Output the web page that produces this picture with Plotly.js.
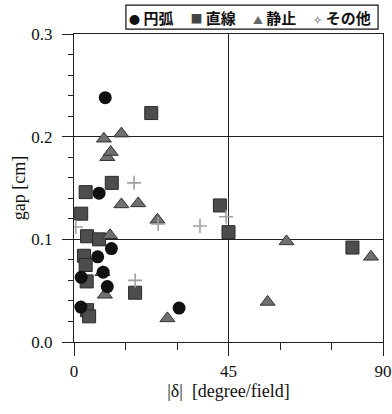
<!DOCTYPE html>
<html>
<head>
<meta charset="utf-8">
<script src="https://cdn.plot.ly/plotly-3.0.1.min.js"></script>
<style>html,body{margin:0;padding:0;background:#fff;}#chart{width:392px;height:414px;}</style>
</head>
<body>
<div id="chart"></div>
<script>
// Series names
const seriesNames = ["円弧", "直線", "静止", "その他"];

// 円弧 (circles)
const arcX = [9.1, 7.3, 10.9, 6.9, 2.1, 8.5, 9.7, 2.0, 30.6];
const arcY = [0.238, 0.145, 0.091, 0.083, 0.063, 0.068, 0.054, 0.034, 0.033];

// 直線 (squares)
const lineX = [22.5, 3.4, 11.0, 2.1, 3.8, 7.3, 2.9, 3.4, 3.7, 3.8, 4.4, 17.8, 42.5, 45.0, 81.1];
const lineY = [0.223, 0.146, 0.155, 0.125, 0.103, 0.100, 0.084, 0.075, 0.059, 0.031, 0.025, 0.048, 0.133, 0.107, 0.092];

// 静止 (triangles)
const stillX = [8.7, 13.8, 9.7, 10.7, 13.8, 18.7, 24.3, 10.5, 9.0, 27.2, 8.3, 61.9, 86.5, 56.4];
const stillY = [0.198, 0.203, 0.180, 0.185, 0.134, 0.135, 0.119, 0.104, 0.046, 0.023, 0.068, 0.098, 0.083, 0.039];

// その他 (crosses)
const otherX = [17.5, 0.5, 24.5, 36.7, 44.3, 17.8];
const otherY = [0.155, 0.112, 0.115, 0.113, 0.122, 0.060];

// Axis ticks
const xTicks = [0, 45, 90];
const yTicks = [0.0, 0.1, 0.2, 0.3];

const serif = "Liberation Serif, Times New Roman, serif";
const cjk = "Noto Sans CJK JP, sans-serif";

const traces = [
  {x: lineX, y: lineY, name: seriesNames[1], type: "scatter", mode: "markers", showlegend: false,
   marker: {symbol: "square", size: 13, color: "#4d4d4d", line: {color: "#2a2a2a", width: 1}}},
  {x: stillX, y: stillY, name: seriesNames[2], type: "scatter", mode: "markers", showlegend: false,
   marker: {symbol: "triangle-up", size: 13, color: "#707070", line: {color: "#333", width: 1}}},
  {x: otherX, y: otherY, name: seriesNames[3], type: "scatter", mode: "markers", showlegend: false,
   marker: {symbol: "cross-thin-open", size: 10, color: "#a0a0a0", line: {color: "#a0a0a0", width: 1.6}}},
  {x: arcX, y: arcY, name: seriesNames[0], type: "scatter", mode: "markers", showlegend: false,
   marker: {symbol: "circle", size: 13, color: "#111", line: {color: "#000", width: 0}}}
];

const gap = '&nbsp;&nbsp;&nbsp;&nbsp;&nbsp;';
const legendText =
  '<span style="font-size:11px">●</span>&nbsp;' + seriesNames[0] + gap +
  '<span style="font-size:12px;color:#444">■</span>&nbsp;' + seriesNames[1] + gap +
  '<span style="font-size:10px;color:#666">▲</span>&nbsp;' + seriesNames[2] + gap +
  '<span style="font-size:11px;color:#999">✧</span>&nbsp;' + seriesNames[3] + '&nbsp;';

const layout = {
  width: 392, height: 414,
  margin: {l: 74, r: 9, t: 34, b: 72, pad: 0},
  paper_bgcolor: "#fff", plot_bgcolor: "#fff",
  showlegend: false,
  font: {family: serif, color: "#111", size: 17},
  xaxis: {
    range: [0, 90], tickvals: xTicks, ticktext: xTicks.map(String),
    ticks: "outside", ticklen: 13, tickwidth: 1, tickcolor: "#222",
    minor: {dtick: 15, tick0: 0, ticks: "outside", ticklen: 7, tickcolor: "#222", showgrid: false},
    showgrid: true, gridcolor: "#222", gridwidth: 1,
    showline: true, linecolor: "#222", linewidth: 1, mirror: true, zeroline: false,
    tickfont: {family: serif, size: 17, color: "#111"},
    ticklabelstandoff: 1,
    title: {text: "|δ|&nbsp; [degree/field]", font: {family: serif, size: 18, color: "#111"}, standoff: 3}
  },
  yaxis: {
    range: [0, 0.3], tickvals: yTicks, ticktext: yTicks.map(v => v.toFixed(1)),
    ticks: "outside", ticklen: 11, tickwidth: 1, tickcolor: "#222",
    minor: {dtick: 0.02, tick0: 0, ticks: "outside", ticklen: 5, tickcolor: "#222", showgrid: false},
    showgrid: true, gridcolor: "#222", gridwidth: 1,
    showline: true, linecolor: "#222", linewidth: 1, mirror: true, zeroline: false,
    tickfont: {family: serif, size: 17, color: "#111"},
    ticklabelstandoff: 6,
    title: {text: "gap [cm]", font: {family: serif, size: 18, color: "#111"}, standoff: 1}
  },
  shapes: [{
    type: "rect", xref: "paper", yref: "paper",
    x0: 0.168, x1: 0.984, y0: 1.016, y1: 1.094,
    line: {color: "#111", width: 1.2}, fillcolor: "rgba(0,0,0,0)", layer: "above"
  }],
  annotations: [{
    xref: "paper", yref: "paper", x: 0.978, y: 1.055, xanchor: "right", yanchor: "middle",
    text: legendText, showarrow: false, align: "left",
    font: {family: cjk, size: 15, color: "#111", weight: "bold"}
  }]
};

Plotly.newPlot("chart", traces, layout, {displayModeBar: false, staticPlot: true});
</script>
</body>
</html>
